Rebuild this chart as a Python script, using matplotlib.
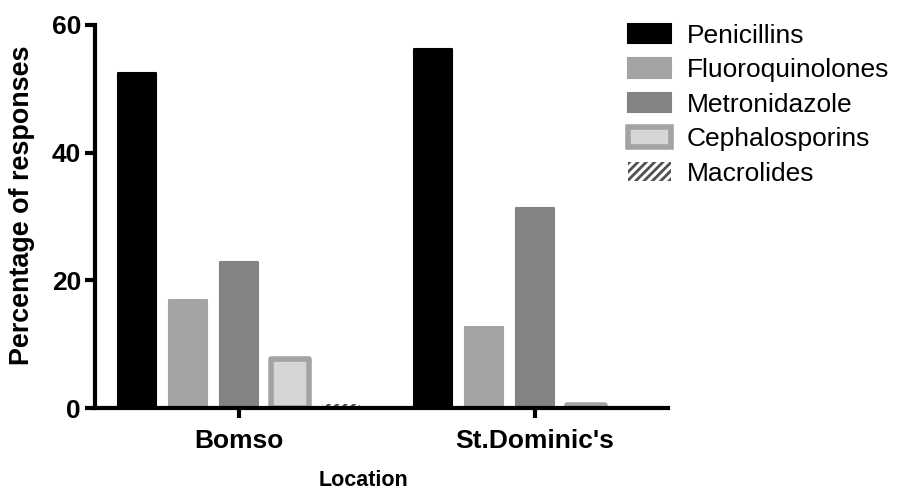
import matplotlib
matplotlib.use("Agg")
import matplotlib.pyplot as plt
import numpy as np
from matplotlib.patches import Patch

plt.rcParams['font.family'] = ['Liberation Sans', 'DejaVu Sans']
plt.rcParams['hatch.linewidth'] = 2.0

locations = ["Bomso", "St.Dominic's"]
classes = ["Penicillins", "Fluoroquinolones", "Metronidazole", "Cephalosporins", "Macrolides"]
penicillins = [52.5, 56.3]
fluoroquinolones = [16.9, 12.7]
metronidazole = [22.8, 31.3]
cephalosporins = [7.7, 0.4]
macrolides = [0.6, 0.0]
series = [penicillins, fluoroquinolones, metronidazole, cephalosporins, macrolides]

faces = ['#000000', '#a3a3a5', '#838383', '#d6d6d6', 'white']
edges = ['#000000', '#a3a3a5', '#838383', '#a3a3a5', '#505050']
lws = [1.5, 1.5, 1.5, 4.0, 0]
hatches = [None, None, None, None, '////']

fig = plt.figure(figsize=(9.14, 4.93), dpi=100)
ax = fig.add_axes([95/914, 1-408/493, 573/914, 383/493])

x = np.arange(len(locations))
step = 0.172
width = 0.127
for i, (vals, name) in enumerate(zip(series, classes)):
    pos = x + (i - 2) * step
    ax.bar(pos, vals, width=width, color=faces[i], edgecolor=edges[i],
           linewidth=lws[i], hatch=hatches[i], joinstyle='round', label=name, zorder=2)

ax.set_xlim(-0.486, 1.449)
ax.set_ylim(0, 60)
ax.set_yticks([0, 20, 40, 60])
ax.set_xticks(x)
ax.set_xticklabels(locations)
for s in ['top', 'right']:
    ax.spines[s].set_visible(False)
for s in ['left', 'bottom']:
    ax.spines[s].set_linewidth(3)
ax.tick_params(axis='both', width=3, length=7, labelsize=19, pad=3)
ax.tick_params(axis='x', pad=8)
for lab in ax.get_xticklabels() + ax.get_yticklabels():
    lab.set_fontweight('bold')
ax.set_ylabel("Percentage of responses", fontsize=19.4, fontweight='bold')
ax.yaxis.set_label_coords(-0.104, 0.53)
ax.set_xlabel("Location", fontsize=15.5, fontweight='bold')
ax.xaxis.set_label_coords(0.469, -0.162)

handles = [
    Patch(facecolor='#000000', edgecolor='#000000', linewidth=1.5),
    Patch(facecolor='#a3a3a5', edgecolor='#a3a3a5', linewidth=1.5),
    Patch(facecolor='#838383', edgecolor='#838383', linewidth=1.5),
    Patch(facecolor='#d6d6d6', edgecolor='#a3a3a5', linewidth=4),
    Patch(facecolor='white', edgecolor='#505050', linewidth=0, hatch='////'),
]
fig.legend(handles, classes, loc='upper left', bbox_to_anchor=(617/914, 1-13/493),
           frameon=False, fontsize=19, handlelength=1.65, handleheight=0.75,
           labelspacing=0.4, handletextpad=0.6, borderaxespad=0)

fig.savefig("out.png", dpi=100)
